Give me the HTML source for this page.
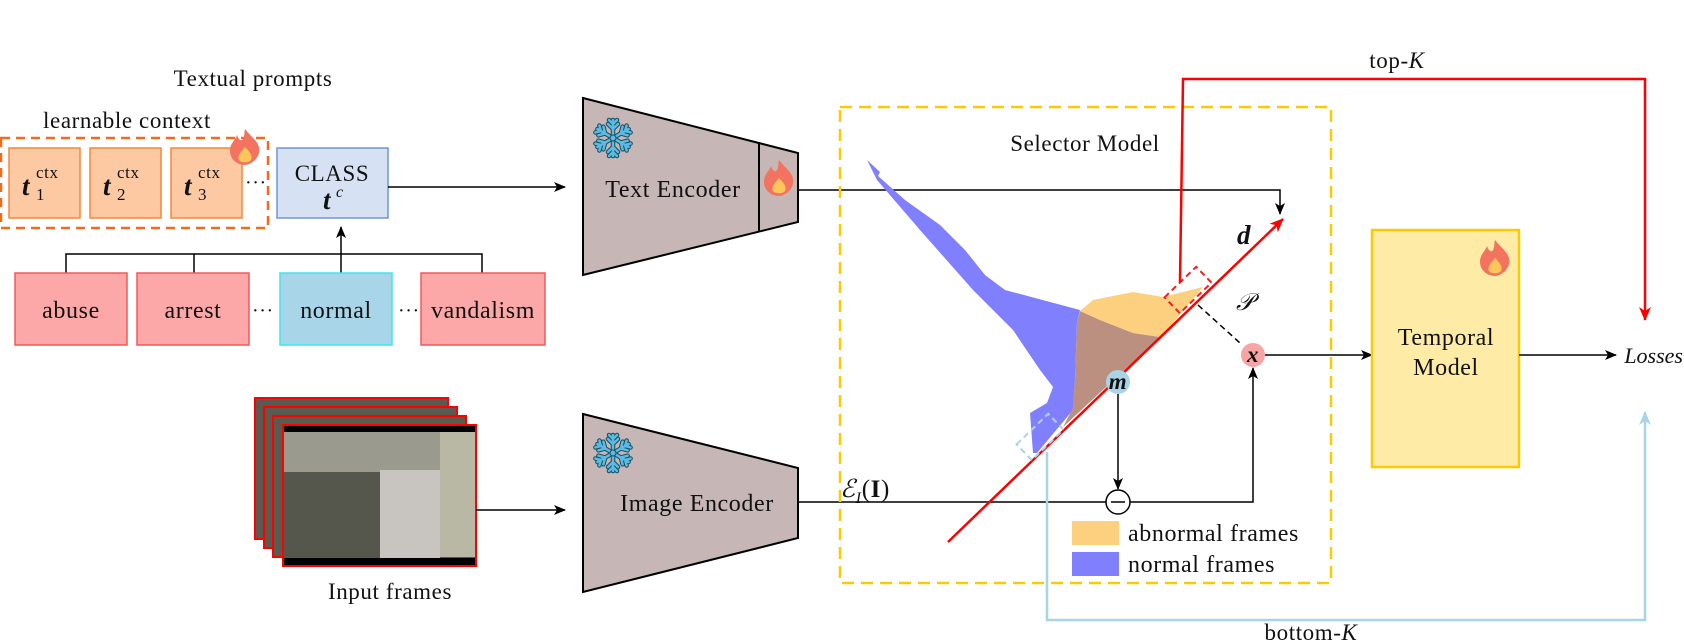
<!DOCTYPE html>
<html><head><meta charset="utf-8"><style>
html,body{margin:0;padding:0;background:#fff}
svg{display:block}
text{font-family:"Liberation Serif",serif;fill:#111;letter-spacing:0.6px}
</style></head><body>
<svg width="1684" height="643" viewBox="0 0 1684 643" xmlns="http://www.w3.org/2000/svg">
<defs>
<marker id="ak" markerWidth="12" markerHeight="10" refX="11" refY="5" orient="auto" markerUnits="userSpaceOnUse"><path d="M0,0 L12,5 L0,10 L3,5 Z" fill="#000"/></marker>
<marker id="ar" markerWidth="14" markerHeight="12" refX="13" refY="6" orient="auto" markerUnits="userSpaceOnUse"><path d="M0,0 L14,6 L0,12 L4,6 Z" fill="#f00"/></marker>
<marker id="ab" markerWidth="14" markerHeight="12" refX="13" refY="6" orient="auto" markerUnits="userSpaceOnUse"><path d="M0,0 L14,6 L0,12 L4,6 Z" fill="#a8d4e6"/></marker>
<g id="flame"><path d="M0,-18 C8,-8 16,-4 14,6 C12,14 4,18 0,18 C-8,18 -15,12 -15,4 C-15,-4 -10,-6 -8,-12 C-6,-6 -3,-6 -2,-8 C0,-12 -1,-15 0,-18 Z" fill="#f27460"/><path d="M0,0 C5,5 8,9 6,13 C4,16 -4,16 -6,13 C-8,9 -4,5 0,0 Z" fill="#fdc55a"/></g>
<g id="arm" stroke="#1b4a60" stroke-width="4.5" stroke-linecap="round"><line x1="0" y1="0" x2="0" y2="-18"/><line x1="0" y1="-9" x2="-5" y2="-14"/><line x1="0" y1="-9" x2="5" y2="-14"/><line x1="0" y1="-14" x2="-4" y2="-18"/><line x1="0" y1="-14" x2="4" y2="-18"/></g>
<g id="arm2" stroke="#5bbbe0" stroke-width="2.5" stroke-linecap="round"><line x1="0" y1="0" x2="0" y2="-18"/><line x1="0" y1="-9" x2="-5" y2="-14"/><line x1="0" y1="-9" x2="5" y2="-14"/><line x1="0" y1="-14" x2="-4" y2="-18"/><line x1="0" y1="-14" x2="4" y2="-18"/></g>
<g id="snow">
<use href="#arm"/><use href="#arm" transform="rotate(60)"/><use href="#arm" transform="rotate(120)"/><use href="#arm" transform="rotate(180)"/><use href="#arm" transform="rotate(240)"/><use href="#arm" transform="rotate(300)"/>
<use href="#arm2"/><use href="#arm2" transform="rotate(60)"/><use href="#arm2" transform="rotate(120)"/><use href="#arm2" transform="rotate(180)"/><use href="#arm2" transform="rotate(240)"/><use href="#arm2" transform="rotate(300)"/>
<circle r="3" fill="#5bbbe0" stroke="#1b4a60"/></g>
</defs>

<text x="253" y="86" font-size="23" text-anchor="middle">Textual prompts</text>
<text x="127" y="128" font-size="23" text-anchor="middle">learnable context</text>
<rect x="1" y="138" width="267" height="90" fill="none" stroke="#f26b1d" stroke-width="2.5" stroke-dasharray="9,6"/>
<g><rect x="9" y="148" width="71" height="70" fill="#fdc9a3" stroke="#f5873a" stroke-width="1.5"/><text x="22" y="195" font-size="27" font-weight="bold" font-style="italic">t</text><text x="36" y="178" font-size="17">ctx</text><text x="36" y="200" font-size="17">1</text></g>
<g><rect x="90" y="148" width="71" height="70" fill="#fdc9a3" stroke="#f5873a" stroke-width="1.5"/><text x="103" y="195" font-size="27" font-weight="bold" font-style="italic">t</text><text x="117" y="178" font-size="17">ctx</text><text x="117" y="200" font-size="17">2</text></g>
<g><rect x="171" y="148" width="71" height="70" fill="#fdc9a3" stroke="#f5873a" stroke-width="1.5"/><text x="184" y="195" font-size="27" font-weight="bold" font-style="italic">t</text><text x="198" y="178" font-size="17">ctx</text><text x="198" y="200" font-size="17">3</text></g>
<text x="245" y="189" font-size="20">···</text>
<use href="#flame" x="245" y="147"/>
<g><rect x="277" y="148" width="111" height="70" fill="#d6e2f3" stroke="#6c98d4" stroke-width="1.5"/><text x="332" y="181" font-size="23" text-anchor="middle">CLASS</text><text x="323" y="209" font-size="27" font-weight="bold" font-style="italic">t</text><text x="336" y="197" font-size="16" font-style="italic">c</text></g>
<line x1="388" y1="187" x2="565" y2="187" stroke="#000" stroke-width="1.5" marker-end="url(#ak)"/>
<path d="M66,273 V254 H482 V273 M194,254 V273" fill="none" stroke="#000" stroke-width="1.5"/>
<line x1="341" y1="273" x2="341" y2="227" stroke="#000" stroke-width="1.5" marker-end="url(#ak)"/>
<g><rect x="15" y="273" width="112" height="72" fill="#fca8a8" stroke="#f2585a" stroke-width="1.5"/><text x="71" y="318" font-size="24" text-anchor="middle">abuse</text></g>
<g><rect x="137" y="273" width="112" height="72" fill="#fca8a8" stroke="#f2585a" stroke-width="1.5"/><text x="193" y="318" font-size="24" text-anchor="middle">arrest</text></g>
<text x="252" y="317" font-size="20">···</text>
<g><rect x="280" y="273" width="112" height="72" fill="#a8d6e8" stroke="#3ee6ee" stroke-width="1.5"/><text x="336" y="318" font-size="24" text-anchor="middle">normal</text></g>
<text x="398" y="317" font-size="20">···</text>
<g><rect x="421" y="273" width="124" height="72" fill="#fca8a8" stroke="#f2585a" stroke-width="1.5"/><text x="483" y="318" font-size="24" text-anchor="middle">vandalism</text></g>

<g>
<path d="M583,98 L798,153 L798,222 L583,275 Z" fill="#c6b6b6" stroke="#000" stroke-width="2"/>
<line x1="759" y1="143" x2="759" y2="232" stroke="#000" stroke-width="2"/>
<text x="673" y="197" font-size="24" text-anchor="middle">Text Encoder</text>
<use href="#snow" x="613" y="138"/><use href="#flame" x="779" y="178"/>
</g>
<path d="M798,190 H1280 V214" fill="none" stroke="#000" stroke-width="1.5" marker-end="url(#ak)"/>

<g>
<rect x="255" y="398" width="193" height="141" fill="#5a5a50" stroke="#f00" stroke-width="2"/>
<rect x="264" y="407" width="193" height="141" fill="#5a5a50" stroke="#f00" stroke-width="2"/>
<rect x="273" y="416" width="193" height="141" fill="#5a5a50" stroke="#f00" stroke-width="2"/>
<rect x="283" y="425" width="193" height="141" fill="#56574c" stroke="#f00" stroke-width="2"/>
<rect x="284" y="426" width="191" height="6" fill="#000"/><rect x="284" y="558" width="191" height="7" fill="#000"/>
<rect x="284" y="432" width="191" height="40" fill="#9a9a8e"/><rect x="440" y="432" width="35" height="125" fill="#b8b8a4"/>
<rect x="380" y="470" width="60" height="88" fill="#c8c4c0"/>
</g>
<text x="390" y="599" font-size="23" text-anchor="middle">Input frames</text>
<line x1="476" y1="510" x2="565" y2="510" stroke="#000" stroke-width="1.5" marker-end="url(#ak)"/>

<g>
<path d="M583,414 L798,468 L798,538 L583,592 Z" fill="#c6b6b6" stroke="#000" stroke-width="2"/>
<text x="697" y="511" font-size="24" text-anchor="middle">Image Encoder</text>
<use href="#snow" x="613" y="453"/>
</g>
<path d="M798,502 H1107" fill="none" stroke="#000" stroke-width="1.5"/>
<text x="840" y="497" font-size="25" font-style="italic">ℰ<tspan font-size="16" dy="6">I</tspan><tspan dy="-6" font-style="normal">(</tspan><tspan font-weight="bold" font-style="normal">I</tspan><tspan font-style="normal">)</tspan></text>

<rect x="840" y="107" width="491" height="476" fill="none" stroke="#fdc900" stroke-width="2.5" stroke-dasharray="12,7"/>
<text x="1085" y="151" font-size="23" text-anchor="middle">Selector Model</text>
<polygon fill="#8080ff" points="867,160 880,172 878,176 905,200 940,225 965,250 985,275 1005,290 1080,310 1077,323 1075,380 1073,410 1037,453 1033,453 1030,413 1047,403 1053,387 1040,370 1013,330 973,290 920,230 877,180"/>
<polygon fill="#bc9080" points="1080,311 1100,320 1133,333 1160,337 1063,427 1073,408 1075,380 1077,323"/>
<polygon fill="#fdd080" points="1080,311 1093,300 1133,292 1163,297 1203,287 1173,323 1160,337 1133,333 1100,320"/>
<line x1="948" y1="542" x2="1283" y2="219" stroke="#f00" stroke-width="2.5" marker-end="url(#ar)"/>
<text x="1237" y="244" font-size="27" font-weight="bold" font-style="italic">d</text>
<rect x="-22" y="-11" width="44" height="22" fill="none" stroke="#e22" stroke-width="2" stroke-dasharray="6,4" transform="translate(1188,290) rotate(-44)"/>
<rect x="-22" y="-11" width="44" height="22" fill="none" stroke="#a8d4e6" stroke-width="2" stroke-dasharray="6,4" transform="translate(1040,437) rotate(-44)"/>
<line x1="1198" y1="305" x2="1240" y2="343" stroke="#000" stroke-width="1.5" stroke-dasharray="6,4"/>
<text x="1236" y="310" font-size="24" font-style="italic">𝒫</text>
<circle cx="1118" cy="382" r="12" fill="#a8d4e6"/>
<text x="1118" y="389" font-size="23" font-weight="bold" font-style="italic" text-anchor="middle">m</text>
<line x1="1118" y1="394" x2="1118" y2="489" stroke="#000" stroke-width="1.5" marker-end="url(#ak)"/>
<circle cx="1118" cy="502" r="12" fill="#fff" stroke="#000" stroke-width="1.5"/>
<line x1="1111" y1="502" x2="1125" y2="502" stroke="#000" stroke-width="1.5"/>
<path d="M1130,502 H1253 V368" fill="none" stroke="#000" stroke-width="1.5" marker-end="url(#ak)"/>
<circle cx="1253" cy="355" r="12" fill="#f7a4a4"/>
<text x="1253" y="362" font-size="23" font-weight="bold" font-style="italic" text-anchor="middle">x</text>
<line x1="1265" y1="355" x2="1372" y2="355" stroke="#000" stroke-width="1.5" marker-end="url(#ak)"/>
<rect x="1072" y="521" width="47" height="24" fill="#fdd080"/>
<text x="1128" y="541" font-size="24">abnormal frames</text>
<rect x="1072" y="552" width="47" height="24" fill="#8080ff"/>
<text x="1128" y="572" font-size="24">normal frames</text>

<path d="M1180,282 L1183,79 H1645 V320" fill="none" stroke="#f00" stroke-width="2.5" marker-end="url(#ar)"/>
<text x="1397" y="68" font-size="23" text-anchor="middle">top-<tspan font-style="italic">K</tspan></text>
<path d="M1047,452 V620 H1645 V412" fill="none" stroke="#a8d4e6" stroke-width="2.5" marker-end="url(#ab)"/>
<text x="1311" y="640" font-size="23" text-anchor="middle">bottom-<tspan font-style="italic">K</tspan></text>

<g>
<rect x="1372" y="230" width="147" height="237" fill="#feeca6" stroke="#fdc900" stroke-width="2.5"/>
<text x="1446" y="345" font-size="24" text-anchor="middle">Temporal</text>
<text x="1446" y="375" font-size="24" text-anchor="middle">Model</text>
<use href="#flame" x="1495" y="258"/>
</g>
<line x1="1519" y1="355" x2="1616" y2="355" stroke="#000" stroke-width="1.5" marker-end="url(#ak)"/>
<text x="1683" y="363" font-size="22" font-style="italic" text-anchor="end" style="letter-spacing:0">Losses</text>
</svg>
</body></html>
